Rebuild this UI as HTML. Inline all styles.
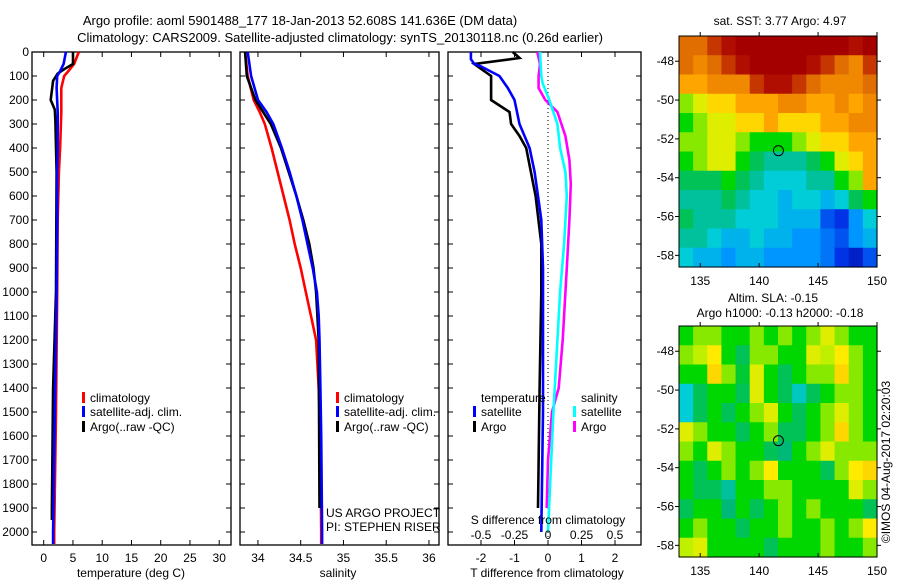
<!DOCTYPE html>
<html><head><meta charset="utf-8">
<style>
body{margin:0;background:#fff;}
svg{display:block;font-family:"Liberation Sans",sans-serif;font-size:12px;}
</style></head>
<body>
<svg id="c" width="900" height="580" viewBox="0 0 900 580">
<text x="300" y="25" text-anchor="middle" font-size="13">Argo profile: aoml 5901488_177 18-Jan-2013 52.608S 141.636E (DM data)</text>
<text x="340" y="42" text-anchor="middle" font-size="13">Climatology: CARS2009. Satellite-adjusted climatology: synTS_20130118.nc (0.26d earlier)</text>
<g id="g"></g>
</svg>
<script>
// ---- data ----
const depthTicks=[0,100,200,300,400,500,600,700,800,900,1000,1100,1200,1300,1400,1500,1600,1700,1800,1900,2000];
// temperature panel
const tDepth=[0,50,80,100,150,250,400,500,700,1000,1500,2000,2050];
const tClim=[6.0,5.2,4.2,3.5,3.0,3.0,2.8,2.6,2.4,2.3,2.1,1.8,1.8];
const tSat=[3.8,3.4,2.8,2.3,2.2,2.4,2.4,2.3,2.3,2.2,1.9,1.6,1.6];
const tArgoDepth=[0,50,70,90,120,200,240,290,500,1000,1400,1900,1950];
const tArgo=[5.0,5.0,3.6,2.4,1.6,1.2,1.9,2.0,2.2,2.1,1.6,1.4,1.4];
const tTicks=[0,5,10,15,20,25,30];
// salinity panel
const sDepth=[0,100,200,250,300,400,500,600,700,800,900,1000,1100,1200,1400,1600,2000,2050];
const sClim=[33.85,33.88,33.95,34.02,34.08,34.16,34.23,34.3,34.37,34.43,34.5,34.56,34.62,34.68,34.71,34.73,34.74,34.74];
const sSat=[33.88,33.92,34.0,34.1,34.18,34.28,34.37,34.45,34.52,34.58,34.64,34.69,34.71,34.72,34.73,34.74,34.75,34.75];
const sArgoDepth=[0,100,200,300,400,500,600,700,800,900,1000,1200,1900];
const sArgo=[33.85,33.87,33.97,34.15,34.27,34.36,34.45,34.53,34.6,34.65,34.68,34.71,34.72];
const sTicks=[34,34.5,35,35.5,36];
// difference panel
const dDepth=[0,30,50,60,100,150,200,300,400,500,600,700,900,1500,2000];
const dTSat=[-2.3,-2.3,-2.2,-2.0,-1.45,-1.2,-1.0,-0.85,-0.55,-0.4,-0.3,-0.2,-0.15,-0.15,-0.2];
const dArgoDepth=[0,25,50,70,100,150,200,250,300,350,400,600,800,1000,1400,1900];
const dTArgo=[-1.05,-0.85,-2.2,-2.0,-1.7,-1.7,-1.7,-1.15,-1.1,-0.85,-0.65,-0.37,-0.2,-0.2,-0.25,-0.3];
const dSDepth=[0,100,130,200,300,400,500,600,800,1000,1500,2000];
const dSSat=[-0.06,-0.05,-0.04,0.01,0.07,0.09,0.13,0.14,0.12,0.09,0.04,0.0];
const dSArgoDepth=[0,50,100,150,200,250,350,450,550,700,900,1200,1400,1500,1700,1900];
const dSArgo=[-0.08,-0.06,-0.07,-0.07,-0.02,0.07,0.13,0.16,0.17,0.16,0.14,0.11,0.08,0.03,0.0,-0.01];
const dTTicks=[-2,-1,0,1,2];
const dSTicks=[-0.5,-0.25,0,0.25,0.5];
const dSLabels=["-0.5","-0.25","0","0.25","0.5"];
// maps
const lonTicks=[135,140,145,150];
const latTicks=[-48,-50,-52,-54,-56,-58];
const sstGrid=[
[0.85,0.85,0.9,0.95,1,1,1,1,1,1,1,1,0.95,1],
[0.85,0.8,0.85,0.9,0.95,1,1,1,1,0.95,0.9,0.85,0.8,0.9],
[0.75,0.75,0.8,0.8,0.8,0.9,0.95,0.95,0.9,0.85,0.8,0.8,0.8,0.85],
[0.6,0.65,0.7,0.7,0.75,0.75,0.75,0.8,0.8,0.75,0.75,0.8,0.75,0.8],
[0.55,0.6,0.65,0.65,0.7,0.7,0.75,0.7,0.7,0.7,0.75,0.75,0.8,0.8],
[0.6,0.6,0.65,0.65,0.6,0.55,0.55,0.55,0.6,0.65,0.7,0.7,0.75,0.75],
[0.55,0.6,0.65,0.65,0.55,0.5,0.45,0.45,0.45,0.5,0.55,0.65,0.7,0.75],
[0.5,0.5,0.5,0.55,0.5,0.45,0.4,0.4,0.4,0.45,0.45,0.55,0.6,0.75],
[0.45,0.45,0.45,0.5,0.45,0.4,0.4,0.35,0.4,0.4,0.35,0.4,0.5,0.55],
[0.5,0.45,0.45,0.45,0.4,0.4,0.4,0.35,0.35,0.35,0.2,0.15,0.3,0.4],
[0.45,0.45,0.4,0.35,0.35,0.4,0.35,0.35,0.3,0.3,0.25,0.2,0.3,0.35],
[0.4,0.35,0.35,0.3,0.35,0.35,0.3,0.3,0.3,0.3,0.25,0.15,0.1,0.2]];
const slaGrid=[
[.55,.6,.6,.55,.55,.6,.55,.6,.55,.6,.65,.6,.55,.55],
[.6,.62,.68,.55,.5,.6,.6,.55,.55,.65,.62,.68,.6,.55],
[.55,.55,.7,.6,.52,.65,.55,.5,.55,.6,.6,.7,.6,.55],
[.4,.5,.55,.55,.5,.65,.55,.5,.42,.5,.55,.6,.6,.55],
[.4,.5,.55,.5,.55,.6,.65,.55,.5,.55,.6,.65,.6,.55],
[.65,.6,.55,.55,.5,.55,.6,.5,.5,.55,.6,.7,.6,.55],
[.6,.55,.65,.6,.55,.55,.5,.48,.55,.6,.65,.6,.6,.6],
[.55,.5,.55,.6,.55,.6,.68,.55,.55,.55,.5,.6,.68,.7],
[.55,.5,.5,.45,.55,.55,.6,.6,.55,.55,.55,.55,.65,.6],
[.5,.55,.55,.48,.55,.5,.55,.6,.55,.6,.55,.55,.55,.5],
[.55,.6,.55,.55,.5,.55,.55,.6,.55,.55,.6,.55,.6,.68],
[.62,.65,.55,.55,.55,.55,.5,.55,.55,.55,.6,.55,.55,.6]];
const floatLon=141.636, floatLat=-52.608;

// ---- drawing ----
const NS="http://www.w3.org/2000/svg";
const G=document.getElementById('g');
function el(t,a,p){const e=document.createElementNS(NS,t);for(const k in a)e.setAttribute(k,a[k]);(p||G).appendChild(e);return e;}
function txt(x,y,s,anchor,p){const e=el('text',{x:x,y:y,'text-anchor':anchor||'middle'},p);e.textContent=s;return e;}
const top0=52, pxPer100=24, frameTop=52, frameBot=545;
const yD=d=>top0+d*pxPer100/100;

function panel(name,x0,x1,left){
  const g=el('g',{});
  
  
  el('rect',{x:x0,y:frameTop,width:x1-x0,height:frameBot-frameTop,fill:'none',stroke:'#000','stroke-width':1.3},g);
  depthTicks.forEach(d=>{
    el('line',{x1:x0,x2:x0+5,y1:yD(d),y2:yD(d),stroke:'#000'},g);
    el('line',{x1:x1-5,x2:x1,y1:yD(d),y2:yD(d),stroke:'#000'},g);
    if(left){const t=txt(x0-3,yD(d)+4,String(d),'end',g);
      
      }
  });
  return g;
}
function line(g,xs,ds,xf,color,name){
  const pts=xs.map((v,i)=>xf(v).toFixed(1)+','+yD(ds[i]).toFixed(1)).join(' ');
  const p=el('polyline',{points:pts,fill:'none',stroke:color,'stroke-width':2.6},g);
  
  
}
function xticks(g,ticks,labels,xf,yLab){
  ticks.forEach((v,i)=>{const x=xf(v);
    el('line',{x1:x,x2:x,y1:frameBot,y2:frameBot-5,stroke:'#000'},g);
    el('line',{x1:x,x2:x,y1:frameTop,y2:frameTop+5,stroke:'#000'},g);
    const t=txt(x,yLab,labels[i],'middle',g);
    
    });
}
function legendItem(g,x,y,color,label){
  el('rect',{x:x,y:y-10,width:3,height:11,fill:color},g);
  const t=txt(x+8,y,label,'start',g);
  
  
}

// Panel 1 temperature
const xT=v=>43.7+v*5.85;
const p1=panel('temperature-panel',32,231,true);
line(p1,tClim,tDepth,xT,'#ff0000','climatology-temp-line');
line(p1,tArgo,tArgoDepth,xT,'#000000','argo-temp-line');
line(p1,tSat,tDepth,xT,'#0000ff','satellite-temp-line');
xticks(p1,tTicks,tTicks.map(String),xT,562);
let t=txt(131,577,'temperature (deg C)','middle',p1);


legendItem(p1,82,402,'#ff0000','climatology');
legendItem(p1,82,416,'#0000ff','satellite-adj. clim.');
legendItem(p1,82,431,'#000000','Argo(..raw -QC)');

// Panel 2 salinity
const xS=v=>240+(v-33.79)*85.5;
const p2=panel('salinity-panel',240,439,false);
line(p2,sClim,sDepth,xS,'#ff0000','climatology-salinity-line');
line(p2,sArgo,sArgoDepth,xS,'#000000','argo-salinity-line');
line(p2,sSat,sDepth,xS,'#0000ff','satellite-salinity-line');
xticks(p2,sTicks,sTicks.map(String),xS,562);
t=txt(338,577,'salinity','middle',p2);


legendItem(p2,336,402,'#ff0000','climatology');
legendItem(p2,336,416,'#0000ff','satellite-adj. clim.');
legendItem(p2,336,431,'#000000','Argo(..raw -QC)');
t=txt(326,517,'US ARGO PROJECT','start',p2);


t=txt(326,531,'PI: STEPHEN RISER','start',p2);



// Panel 3 differences
const xDT=v=>548+v*33.5;
const xDS=v=>548+v*134;
const p3=panel('difference-panel',448,641,false);
el('line',{x1:548,x2:548,y1:frameTop,y2:frameBot,stroke:'#000','stroke-dasharray':'1,3'},p3);
line(p3,dTArgo,dArgoDepth,xDT,'#000000','argo-temp-diff-line');
line(p3,dTSat,dDepth,xDT,'#0000ff','satellite-temp-diff-line');
line(p3,dSArgo,dSArgoDepth,xDS,'#ff00ff','argo-salinity-diff-line');
line(p3,dSSat,dSDepth,xDS,'#00ffff','satellite-salinity-diff-line');
xticks(p3,dTTicks,dTTicks.map(String),xDT,562);
dSTicks.forEach((v,i)=>{const tt=txt(xDS(v),539,dSLabels[i],'middle',p3);
  
  });
t=txt(548,524,'S difference from climatology','middle',p3);


t=txt(547,577,'T difference from climatology','middle',p3);


t=txt(481,402,'temperature','start',p3);


t=txt(581,402,'salinity','start',p3);


legendItem(p3,473,416,'#0000ff','satellite');
legendItem(p3,473,431,'#000000','Argo');
legendItem(p3,573,416,'#00ffff','satellite');
legendItem(p3,573,431,'#ff00ff','Argo');

// Maps
const cmapStops=[[0,[0,0,140]],[0.15,[0,50,230]],[0.3,[0,150,255]],[0.4,[0,205,215]],[0.48,[0,185,120]],[0.55,[0,215,0]],[0.62,[190,240,0]],[0.68,[255,235,0]],[0.75,[255,165,0]],[0.85,[225,110,0]],[0.93,[180,20,0]],[1,[165,0,0]]];
function cmap(v){
  for(let i=1;i<cmapStops.length;i++){
    if(v<=cmapStops[i][0]){const a=cmapStops[i-1],b=cmapStops[i];const f=(v-a[0])/(b[0]-a[0]);
      return 'rgb('+a[1].map((c,k)=>Math.round(c+(b[1][k]-c)*f)).join(',')+')';}
  }
  return 'rgb(165,0,0)';
}
function map(name,grid,mx0,mx1,my0,my1,title,titleY){
  const g=el('g',{});
  
  
  const lonMin=133.2,lonMax=150,latMax=-46.7,latMin=-58.6;
  const xL=v=>mx0+(v-lonMin)/(lonMax-lonMin)*(mx1-mx0);
  const yL=v=>my0+(latMax-v)/(latMax-latMin)*(my1-my0);
  const rows=grid.length,cols=grid[0].length;
  const cw=(mx1-mx0)/cols,ch=(my1-my0)/rows;
  grid.forEach((row,r)=>row.forEach((v,c)=>{
    const cell=el('rect',{x:(mx0+c*cw).toFixed(2),y:(my0+r*ch).toFixed(2),width:(cw+0.6).toFixed(2),height:(ch+0.6).toFixed(2),fill:cmap(v)},g);
    
    
  }));
  el('rect',{x:mx0,y:my0,width:mx1-mx0,height:my1-my0,fill:'none',stroke:'#000'},g);
  lonTicks.forEach(v=>{const x=xL(v);
    el('line',{x1:x,x2:x,y1:my1,y2:my1-4,stroke:'#000'},g);
    el('line',{x1:x,x2:x,y1:my0,y2:my0-4,stroke:'#000'},g);
    const tt=txt(x,my1+18,String(v),'middle',g);
    
    });
  latTicks.forEach(v=>{const y=yL(v);
    el('line',{x1:mx0,x2:mx0-4,y1:y,y2:y,stroke:'#000'},g);
    el('line',{x1:mx1,x2:mx1+4,y1:y,y2:y,stroke:'#000'},g);
    const tt=txt(mx0-5,y+4,String(v),'end',g);
    
    });
  const m=el('circle',{cx:xL(floatLon),cy:yL(floatLat),r:5,fill:'none',stroke:'#000','stroke-width':1},g);
  
  
  title.forEach((s,i)=>{const tt=txt(i==0&&title.length>1?773:780,titleY[i],s,'middle',g);
    
    });
}
map('sst-map',sstGrid,679,877,36,267,['sat. SST: 3.77  Argo: 4.97'],[25]);
map('sla-map',slaGrid,679,877,326,557,['Altim. SLA: -0.15','Argo h1000: -0.13 h2000: -0.18'],[302,317]);
t=txt(0,0,'©IMOS 04-Aug-2017 02:20:03','middle');
t.setAttribute('transform','translate(890,462) rotate(-90)');


</script>
</body></html>
